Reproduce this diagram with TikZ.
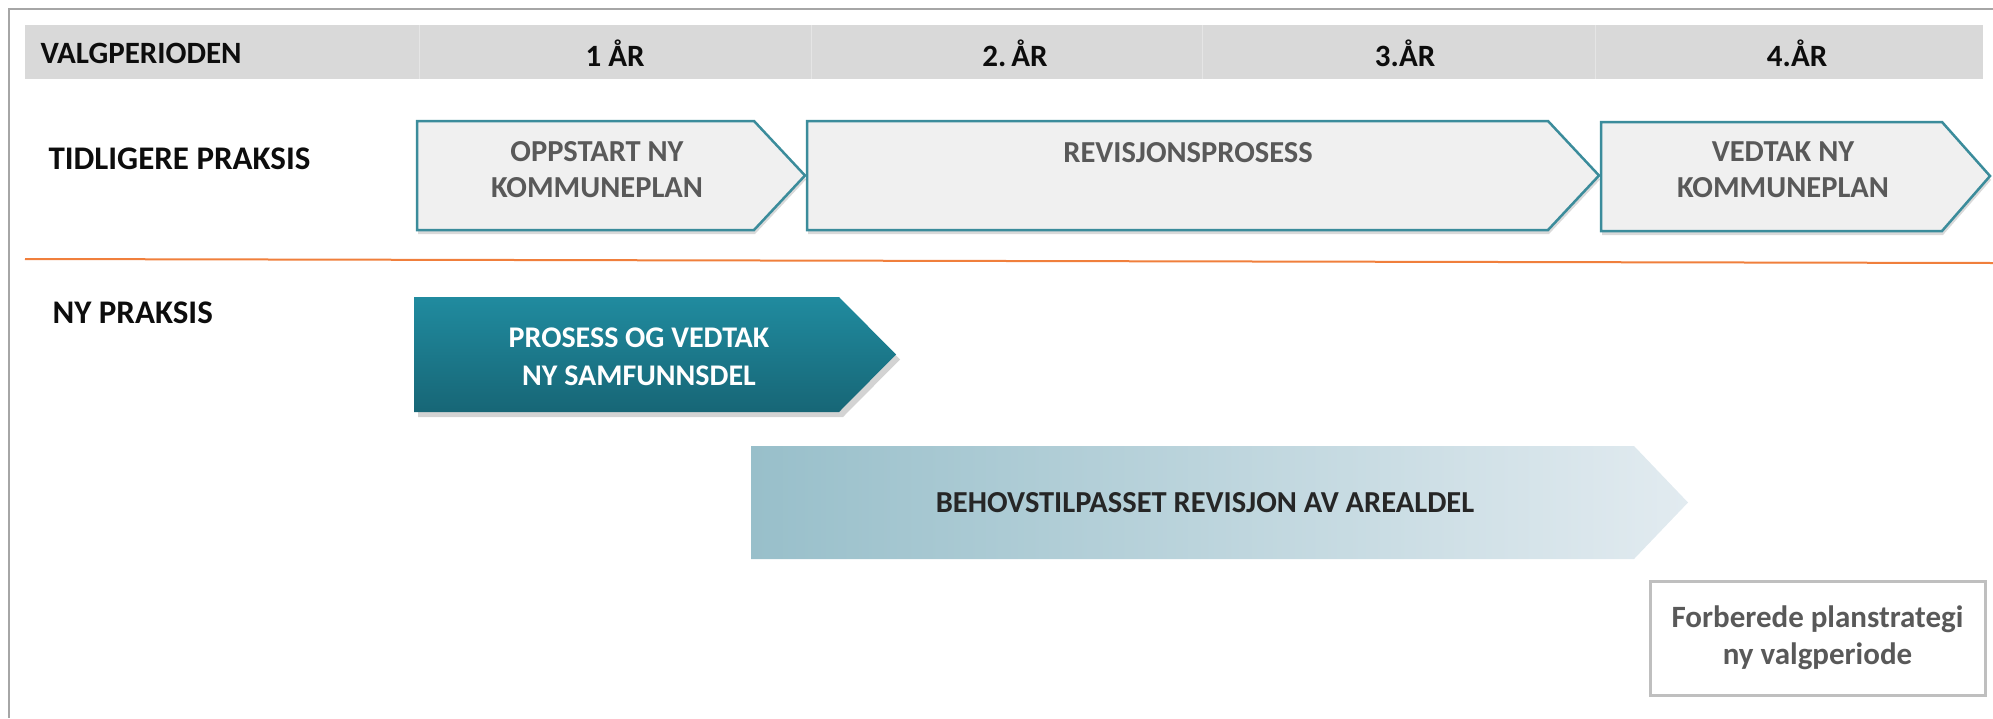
\documentclass[tikz,border=0pt]{standalone}
\usepackage{fontspec}
\setmainfont{Carlito}
\usetikzlibrary{shadows}

\definecolor{bandgray}{HTML}{D9D9D9}
\definecolor{framegray}{HTML}{A6A6A6}
\definecolor{oldfill}{HTML}{F0F0F0}
\definecolor{oldline}{HTML}{3B8C9B}
\definecolor{textgray}{HTML}{595959}
\definecolor{tealtop}{HTML}{208B9F}
\definecolor{tealbottom}{HTML}{176676}
\definecolor{paleleft}{HTML}{98BFCA}
\definecolor{paleright}{HTML}{E2EBF0}
\definecolor{boxgray}{HTML}{BFBFBF}
\definecolor{planorange}{HTML}{F07F3C}

\tikzset{
  head/.style={font=\fontsize{31}{36}\selectfont\bfseries, text=black!95},
  rowlabel/.style={font=\fontsize{33}{38}\selectfont\bfseries, text=black!95},
  oldarrow/.style={fill=oldfill, draw=oldline, line width=2.5pt, line join=miter,
    drop shadow={shadow xshift=1pt, shadow yshift=-4pt, opacity=0.3}},
  oldtext/.style={font=\fontsize{30.5}{36}\selectfont\bfseries, text=textgray, align=center},
  newarrow/.style={top color=tealtop, bottom color=tealbottom, draw=none,
    drop shadow={shadow xshift=4pt, shadow yshift=-5pt, opacity=0.35}},
  newtext/.style={font=\fontsize{30}{38}\selectfont\bfseries, text=white, align=center},
  palearrow/.style={left color=paleleft, right color=paleright},
  paletext/.style={font=\fontsize{30.5}{36}\selectfont\bfseries, text=black!85},
  planbox/.style={draw=boxgray, line width=3pt, minimum width=335pt, minimum height=114pt,
    font=\fontsize{31}{37}\selectfont\bfseries, text=textgray, align=center}
}

\begin{document}
\begin{tikzpicture}[x=1pt,y=-1pt]
\useasboundingbox (0,0) rectangle (1993,718);
% ramme og overskrift
\draw[framegray, line width=2pt] (9,718) -- (9,9) -- (1993,9);
\fill[bandgray] (25,25) rectangle (1983,79);
\foreach \x in {419,811,1202,1595}
  \draw[white!90!black, line width=1pt] (\x,25) -- (\x,79);
\node[head, anchor=west] (valg) at (37,53) {VALGPERIODEN};
\node[head] (aar1) at (615,53) {1 ÅR};
\node[head] (aar2) at (1015,53) {2.\,ÅR};
\node[head] (aar3) at (1405,53) {3.ÅR};
\node[head] (aar4) at (1797,53) {4.ÅR};

% tidligere praksis
\node[rowlabel, anchor=west] (tidligere) at (45,159) {TIDLIGERE PRAKSIS};
\draw[oldarrow] (417,121) -- (754,121) -- (805,175.5) -- (754,230) -- (417,230) -- cycle;
\node[oldtext] (oppstart) at (597,170) {OPPSTART NY\\KOMMUNEPLAN};
\draw[oldarrow] (807,121) -- (1548,121) -- (1599,175.5) -- (1548,230) -- (807,230) -- cycle;
\node[oldtext] (revisjon) at (1188,170) {REVISJONSPROSESS\\\phantom{K}};
\draw[oldarrow] (1601,122) -- (1942,122) -- (1990,176) -- (1942,231) -- (1601,231) -- cycle;
\node[oldtext] (vedtak) at (1783,170) {VEDTAK NY\\KOMMUNEPLAN};

\draw[planorange, line width=2pt] (25,259) -- (1993,263);

% ny praksis
\node[rowlabel, anchor=west] (ny) at (49,313) {NY PRAKSIS};
\draw[newarrow] (414,297) -- (839,297) -- (896,354.5) -- (839,412) -- (414,412) -- cycle;
\node[newtext] (samfunn) at (639,357) {PROSESS OG VEDTAK\\NY SAMFUNNSDEL};
\shade[palearrow] (751,446) -- (1634,446) -- (1688,502.5) -- (1634,559) -- (751,559) -- cycle;
\node[paletext] (areal) at (1205,503) {BEHOVSTILPASSET REVISJON AV AREALDEL};
\node[planbox] (strategi) at (1817.5,638) {Forberede planstrategi\\ny valgperiode};
\end{tikzpicture}
\end{document}
